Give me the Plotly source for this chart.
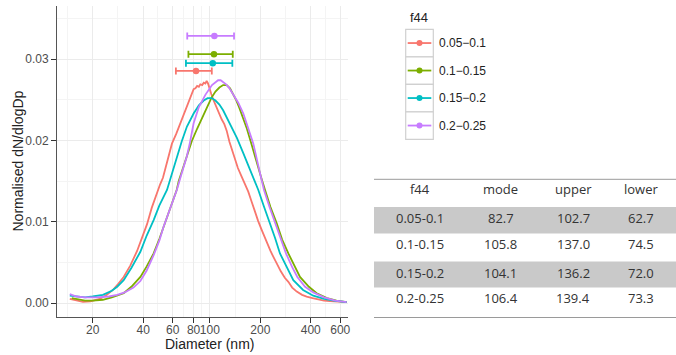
import plotly.graph_objects as go

W, H = 676, 355

# ---------------- data ----------------
groups = ["0.05-0.1", "0.1-0.15", "0.15-0.2", "0.2-0.25"]
legend_labels = ["0.05\u22120.1", "0.1\u22120.15", "0.15\u22120.2", "0.2\u22120.25"]
colors = ["#F8766D", "#7CAE00", "#00BFC4", "#C77CFF"]

d_red = [14.6, 16, 17.5, 19.4, 22, 24.3, 26.7, 28.5, 30.6, 33.5, 36.8, 39.5, 42.2, 45, 48.4, 50.5,
         52.5, 55.5, 57.5, 59.4, 63, 66, 68.2, 71.4, 74, 76.4, 78.5, 80, 82, 84, 86, 87.7, 90, 92,
         94, 95.7, 97.5, 99, 102, 104.9, 110, 114, 117.6, 122, 126, 131, 138, 143, 147, 155, 162,
         169.5, 178, 185, 194, 203.8, 212, 220, 230, 239, 252, 265, 280, 294, 310, 330, 355, 378,
         410, 440, 480, 520, 580, 655]
v_red = [0.0005, 0.0003, 0.00015, 0.0002, 0.0005, 0.0010, 0.0017, 0.0024, 0.0032, 0.0046, 0.0064,
         0.0081, 0.0097, 0.0117, 0.0137, 0.0146, 0.0154, 0.0174, 0.0186, 0.0196, 0.0208, 0.0219,
         0.0226, 0.0236, 0.0244, 0.0252, 0.0259, 0.0263, 0.0264, 0.0267, 0.0266, 0.0269, 0.0268,
         0.0271, 0.0270, 0.0273, 0.0270, 0.0265, 0.0257, 0.0250, 0.0239, 0.0233, 0.0226, 0.0220,
         0.0212, 0.0198, 0.0184, 0.0176, 0.0166, 0.0155, 0.0146, 0.0137, 0.0124, 0.0113, 0.0101,
         0.0090, 0.0081, 0.0073, 0.0064, 0.0057, 0.0047, 0.0039, 0.0031, 0.0026, 0.0019, 0.0014,
         0.0010, 0.00078, 0.0006, 0.00045, 0.0003, 0.00022, 0.00015, 0.0001]

d_green = [15, 16.5, 18, 20, 23, 26, 30.6, 34, 38.5, 42, 46.2, 50, 54, 57, 60, 63.4, 65.2, 69, 73,
           78, 83.8, 90, 96.2, 102, 108, 114, 120, 126, 132, 138, 144, 150, 158, 166, 178, 190.5,
           202, 213.5, 230, 250.6, 270, 294, 320, 345, 390, 434, 500, 570, 655]
v_green = [0.0006, 0.0004, 0.0003, 0.0003, 0.0004, 0.0007, 0.0012, 0.0020, 0.0032, 0.0045, 0.0061,
           0.0079, 0.0098, 0.0111, 0.0124, 0.0139, 0.0150, 0.0166, 0.0182, 0.0199, 0.0214, 0.0228,
           0.0240, 0.0252, 0.0260, 0.0265, 0.0268, 0.0268, 0.0264, 0.0257, 0.0249, 0.0240, 0.0228,
           0.0215, 0.0194, 0.0172, 0.0155, 0.0139, 0.0118, 0.0098, 0.0078, 0.0061, 0.0045, 0.0032,
           0.0020, 0.0012, 0.0006, 0.0003, 0.0001]

d_cyan = [14.6, 16, 18, 20, 23, 26, 28, 30.6, 34, 38.5, 42, 46.2, 50, 55.5, 59.5, 63.7, 68, 73, 80,
          86, 91.9, 97, 102.6, 108, 114, 120, 125, 131.9, 145, 158.5, 175, 194.6, 210, 228.6, 245,
          262, 290, 314.8, 360, 414, 480, 560, 655]
v_cyan = [0.0009, 0.0008, 0.0007, 0.0008, 0.0010, 0.0015, 0.0020, 0.0028, 0.0043, 0.0063, 0.0083,
          0.0102, 0.0120, 0.0139, 0.0160, 0.0180, 0.0199, 0.0217, 0.0233, 0.0243, 0.0249, 0.0252,
          0.0252, 0.0249, 0.0244, 0.0237, 0.0230, 0.0221, 0.0203, 0.0184, 0.0162, 0.0139, 0.0119,
          0.0098, 0.0080, 0.0061, 0.0042, 0.0028, 0.0016, 0.0009, 0.0005, 0.00025, 0.0001]

d_purple = [14.6, 16, 18, 21, 25, 28, 31, 35, 38.5, 42, 46.2, 50, 53, 57, 60, 63.5, 68, 72.8, 76,
            80, 86, 94, 103, 108, 112, 116, 120, 125, 130, 138, 148, 158.4, 170, 181.7, 195, 210.4,
            227, 245, 265, 284.6, 310, 332.6, 370, 414, 480, 560, 655]
v_purple = [0.0011, 0.0008, 0.0007, 0.0007, 0.0008, 0.0010, 0.0013, 0.0019, 0.0027, 0.0040, 0.0059,
            0.0077, 0.0094, 0.0113, 0.0126, 0.0139, 0.0160, 0.0180, 0.0197, 0.0221, 0.0241, 0.0256,
            0.0268, 0.0272, 0.0274, 0.0274, 0.0272, 0.0269, 0.0265, 0.0256, 0.0246, 0.0233, 0.0215,
            0.0196, 0.0168, 0.0139, 0.0118, 0.0098, 0.0078, 0.0061, 0.0044, 0.0032, 0.0020, 0.0013,
            0.0007, 0.0003, 0.0001]

curve_d = [d_red, d_green, d_cyan, d_purple]
curve_v = [v_red, v_green, v_cyan, v_purple]

# table values (also drawn as the error bars)
mode_vals = [82.7, 105.8, 104.1, 106.4]
upper_vals = [102.7, 137.0, 136.2, 139.4]
lower_vals = [62.7, 74.5, 72.0, 73.3]
errbar_y = [0.02855, 0.03060, 0.02950, 0.03285]

x_tickvals = [20, 40, 60, 80, 100, 200, 400, 600]
x_minor = [14.14, 28.28, 48.99, 69.28, 89.44, 141.4, 282.8, 489.9]
y_tickvals = [0, 0.01, 0.02, 0.03]
y_ticktext = ["0.00", "0.01", "0.02", "0.03"]
y_minor = [0.005, 0.015, 0.025, 0.035]

table_header = ["f44", "mode", "upper", "lower"]

# ---------------- helpers ----------------
def px(x):
    return x / W

def py(y):
    return 1 - y / H

PLOT_L, PLOT_R, PLOT_T, PLOT_B = 57, 347.7, 6, 316.7
FONT = "Liberation Sans, Arial, sans-serif"
TFONT = "Open Sans, sans-serif"

fig = go.Figure()

for d, v, c, g in zip(curve_d, curve_v, colors, groups):
    fig.add_trace(go.Scatter(x=d, y=v, mode="lines", line=dict(color=c, width=1.8),
                             name=g, showlegend=False, hoverinfo="skip"))

for m, u, lo, yv, c in zip(mode_vals, upper_vals, lower_vals, errbar_y, colors):
    fig.add_trace(go.Scatter(x=[m], y=[yv], mode="markers",
                             marker=dict(color=c, size=6.5),
                             error_x=dict(type="data", symmetric=False, array=[u - m],
                                          arrayminus=[m - lo], color=c, thickness=1.8, width=3.5),
                             showlegend=False, hoverinfo="skip"))

fig.update_xaxes(type="log", range=[1.088, 2.8225], domain=[px(PLOT_L), px(PLOT_R)],
                 tickmode="array", tickvals=x_tickvals, ticktext=[str(t) for t in x_tickvals],
                 tickangle=0, ticks="outside", ticklen=5, tickcolor="#333333", tickwidth=1,
                 ticklabelstandoff=-3,
                 tickfont=dict(family=FONT, size=12, color="#4d4d4d"),
                 showgrid=True, gridcolor="#ebebeb", gridwidth=1,
                 minor=dict(tickvals=x_minor, showgrid=True, gridcolor="#f4f4f4", gridwidth=1, ticklen=0),
                 showline=True, linecolor="#555555", linewidth=1, zeroline=False, automargin=False)
fig.update_yaxes(range=[-0.001685, 0.03653], domain=[py(PLOT_B), py(PLOT_T)],
                 tickmode="array", tickvals=y_tickvals, ticktext=y_ticktext,
                 ticks="outside", ticklen=5, tickcolor="#333333", tickwidth=1,
                 tickfont=dict(family=FONT, size=12, color="#4d4d4d"),
                 showgrid=True, gridcolor="#ebebeb", gridwidth=1,
                 minor=dict(tickvals=y_minor, showgrid=True, gridcolor="#f4f4f4", gridwidth=1, ticklen=0),
                 showline=True, linecolor="#555555", linewidth=1, zeroline=False, automargin=False)

shapes = []
annotations = []

# axis titles
annotations.append(dict(x=px(209), y=py(344), xref="paper", yref="paper", text="Diameter (nm)",
                        showarrow=False, xanchor="center", yanchor="middle",
                        font=dict(family=FONT, size=14, color="#222222")))
annotations.append(dict(x=px(17.5), y=py(161), xref="paper", yref="paper", text="Normalised dN/dlogDp",
                        showarrow=False, xanchor="center", yanchor="middle", textangle=-90,
                        font=dict(family=FONT, size=14, color="#222222")))

# legend (ggplot style)
annotations.append(dict(x=px(407.5), y=py(17), xref="paper", yref="paper", text="f44",
                        showarrow=False, xanchor="left", yanchor="middle",
                        font=dict(family=FONT, size=13, color="#222222")))
KEY_L, KEY_R, KEY_T, KEY_H = 405.7, 433.3, 29.3, 27.5
for i, (lab, c) in enumerate(zip(legend_labels, colors)):
    y0 = KEY_T + KEY_H * i
    yc = y0 + KEY_H / 2
    shapes.append(dict(type="rect", xref="paper", yref="paper", x0=px(KEY_L), x1=px(KEY_R),
                       y0=py(y0), y1=py(y0 + KEY_H), line=dict(color="#d0d0d0", width=1.2),
                       fillcolor="white"))
    shapes.append(dict(type="line", xref="paper", yref="paper", x0=px(KEY_L + 2), x1=px(KEY_R - 2),
                       y0=py(yc), y1=py(yc), line=dict(color=c, width=1.8)))
    r = 3.0
    xc = (KEY_L + KEY_R) / 2
    shapes.append(dict(type="circle", xref="paper", yref="paper", x0=px(xc - r), x1=px(xc + r),
                       y0=py(yc - r), y1=py(yc + r), fillcolor=c, line=dict(color=c, width=0)))
    annotations.append(dict(x=px(436.5), y=py(yc), xref="paper", yref="paper", text=lab,
                            showarrow=False, xanchor="left", yanchor="middle",
                            font=dict(family=FONT, size=12, color="#222222")))

# table
TBL_L, TBL_R = 374, 676
shapes.append(dict(type="rect", xref="paper", yref="paper", x0=px(TBL_L), x1=px(TBL_R),
                   y0=py(207), y1=py(233.5), fillcolor="#c9c9c9", line=dict(width=0), layer="below"))
shapes.append(dict(type="rect", xref="paper", yref="paper", x0=px(TBL_L), x1=px(TBL_R),
                   y0=py(261.5), y1=py(287.5), fillcolor="#c9c9c9", line=dict(width=0), layer="below"))
shapes.append(dict(type="line", xref="paper", yref="paper", x0=px(TBL_L), x1=px(TBL_R),
                   y0=py(179.3), y1=py(179.3), line=dict(color="#9a9a9a", width=1)))
shapes.append(dict(type="line", xref="paper", yref="paper", x0=px(TBL_L), x1=px(TBL_R),
                   y0=py(317.5), y1=py(317.5), line=dict(color="#9a9a9a", width=1)))

col_x = [420, 500.7, 573, 640.7]
row_y = [189.2, 217.5, 244, 272.5, 298]
rows = [table_header] + [[g, f"{m:.1f}", f"{u:.1f}", f"{lo:.1f}"]
                         for g, m, u, lo in zip(groups, mode_vals, upper_vals, lower_vals)]
for r_i, row in enumerate(rows):
    for c_i, txt in enumerate(row):
        annotations.append(dict(x=px(col_x[c_i]), y=py(row_y[r_i]), xref="paper", yref="paper",
                                text=txt, showarrow=False, xanchor="center", yanchor="middle",
                                font=dict(family=TFONT, size=13, color="#333333")))

fig.update_layout(width=W, height=H, margin=dict(l=0, r=0, t=0, b=0),
                  paper_bgcolor="white", plot_bgcolor="white",
                  shapes=shapes, annotations=annotations, showlegend=False)

fig.write_html("out.html")
